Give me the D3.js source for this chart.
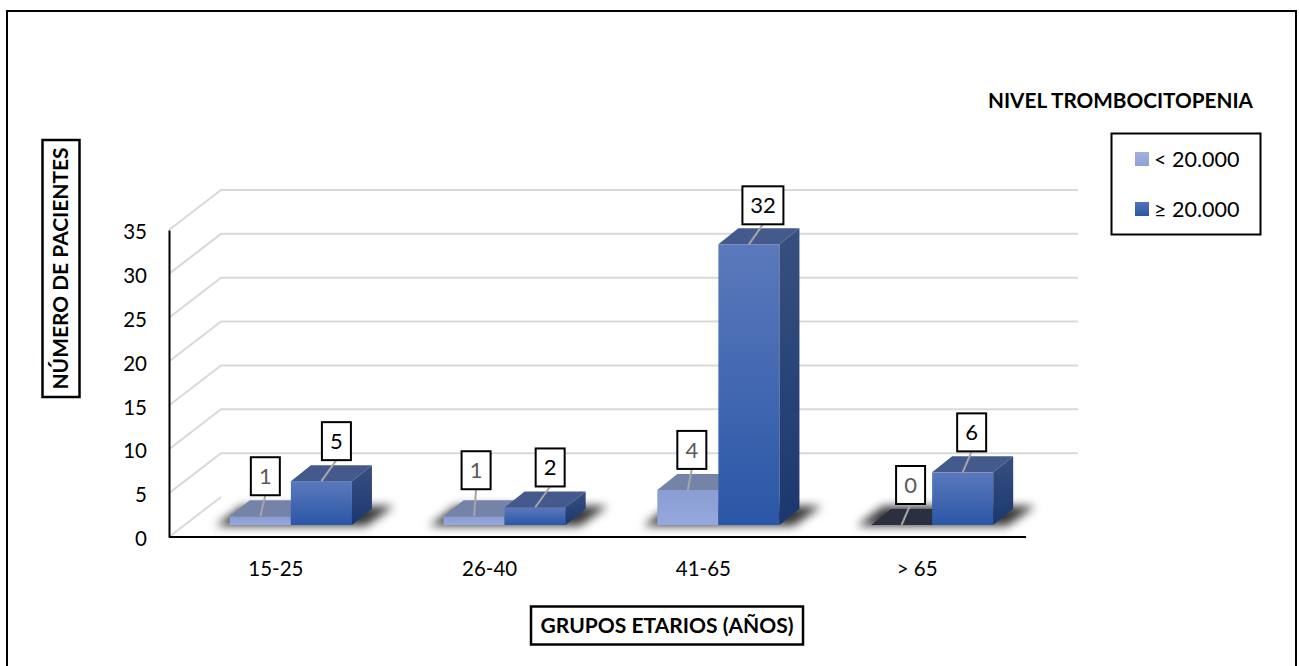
<!DOCTYPE html>
<html>
<head>
<meta charset="utf-8">
<script src="https://cdn.jsdelivr.net/npm/d3@7"></script>
<style>
html, body { margin: 0; padding: 0; background: #fff; overflow: hidden; }
text { font-family: Lato, "Open Sans", sans-serif; }
</style>
</head>
<body>
<div id="chart"></div>
<script>
var w = 1299;
var h = 666;

var categories = ["15-25", "26-40", "41-65", "> 65"];
var series = ["< 20.000", "≥ 20.000"];
var lowValues = [1, 1, 4, 0];
var highValues = [5, 2, 32, 6];
var yTicks = [0, 5, 10, 15, 20, 25, 30, 35];

// label boxes are moved by hand in the original, offset from the bar top
var lowNudgeX = [5, 2, 4, 9];
var lowNudgeY = [21, 27, 21, 21];
var highNudgeX = [15, 15, 14, 9];
var highNudgeY = [21, 21, 20, 21];

var axisLeft = 169, axisRight = 1026;
var depthX = 52, depthY = 40;   // back wall offset
var floorX = 15, floorY = 12;   // bars start this far into the floor
var barX = 20, barY = 16;       // depth of a bar

var x = d3.scaleBand().domain(categories).range([axisLeft, 1024]);
var x1 = d3.scaleBand().domain(series).range([0, x.bandwidth()]).paddingOuter(0.75);
var y = d3.scaleLinear().domain([0, 35]).range([537, 230]);

var svg = d3.select("#chart")
	.append("svg")
	.attr("width", w)
	.attr("height", h)
	.style("display", "block");

var defs = svg.append("defs");

function gradient(id, top, bottom) {
	var g = defs.append("linearGradient")
		.attr("id", id)
		.attr("x1", 0).attr("y1", 0).attr("x2", 0).attr("y2", 1);
	g.append("stop").attr("offset", "0%").attr("stop-color", top);
	g.append("stop").attr("offset", "100%").attr("stop-color", bottom);
}
gradient("lowFront", "#8a9dd2", "#95a8df");
gradient("highFront", "#5b79bc", "#2a57a6");
gradient("highSide", "#37507f", "#1b386f");
gradient("lowSwatch", "#a3b1dc", "#8ea2d8");
gradient("highSwatch", "#5273b8", "#2a57a6");

defs.append("filter")
	.attr("id", "blur")
	.attr("x", "-20%").attr("y", "-60%").attr("width", "140%").attr("height", "220%")
	.append("feGaussianBlur")
	.attr("stdDeviation", 5);

// outer frame
svg.append("rect")
	.attr("x", 7).attr("y", 11)
	.attr("width", 1289).attr("height", 680)
	.attr("fill", "#fff")
	.attr("stroke", "#000")
	.attr("stroke-width", 2);

// back wall gridlines and their side wall part
var grid = svg.append("g")
	.attr("fill", "none")
	.attr("stroke", "#d9d9d9")
	.attr("stroke-width", 2);

grid.selectAll("path")
	.data(yTicks)
	.enter()
	.append("path")
	.attr("d", function(d) {
		var p = d3.path();
		p.moveTo(axisLeft, y(d));
		p.lineTo(axisLeft + depthX, y(d) - depthY);
		if (d > 0) p.lineTo(axisRight + depthX, y(d) - depthY);
		return p.toString();
	});

var rows = categories.map(function(c, i) {
	return { category: c, low: lowValues[i], high: highValues[i], i: i };
});

function barLeft(category, name) {
	return x(category) + x1(name) + floorX;
}

// floor shadows
svg.append("g")
	.selectAll("path")
	.data(rows)
	.enter()
	.append("path")
	.attr("filter", "url(#blur)")
	.attr("fill", "#000")
	.attr("fill-opacity", 0.78)
	.attr("d", function(d) {
		var l = barLeft(d.category, series[0]);
		var r = barLeft(d.category, series[1]) + x1.bandwidth();
		var base = y(0) - floorY;
		var p = d3.path();
		p.moveTo(l - 14, base + 1);
		p.lineTo(r + 14, base + 1);
		p.lineTo(r + 42, base - 19);
		p.lineTo(l + 12, base - 19);
		p.closePath();
		return p.toString();
	});

function drawBars(name, values, frontFill, topFill, sideFill) {
	var bars = svg.append("g")
		.selectAll("g")
		.data(values.map(function(v, i) { return { category: categories[i], value: v }; }))
		.enter()
		.append("g");

	// front face
	bars.append("rect")
		.attr("x", function(d) { return barLeft(d.category, name); })
		.attr("y", function(d) { return y(d.value) - floorY; })
		.attr("width", x1.bandwidth())
		.attr("height", function(d) { return y(0) - y(d.value); })
		.attr("fill", frontFill);

	// top face
	bars.append("path")
		.attr("fill", function(d) { return d.value === 0 ? "#2b3040" : topFill; })
		.attr("d", function(d) {
			var l = barLeft(d.category, name), t = y(d.value) - floorY, b = x1.bandwidth();
			return "M" + l + "," + t + "L" + (l + b) + "," + t +
				"L" + (l + b + barX) + "," + (t - barY) + "L" + (l + barX) + "," + (t - barY) + "Z";
		});

	// side face
	bars.filter(function(d) { return d.value > 0; })
		.append("path")
		.attr("fill", sideFill)
		.attr("d", function(d) {
			var r = barLeft(d.category, name) + x1.bandwidth(), t = y(d.value) - floorY, f = y(0) - floorY;
			return "M" + r + "," + t + "L" + (r + barX) + "," + (t - barY) +
				"L" + (r + barX) + "," + (f - barY) + "L" + r + "," + f + "Z";
		});
}

drawBars(series[0], lowValues, "url(#lowFront)", "#7583a8", "#6a79a3");
drawBars(series[1], highValues, "url(#highFront)", "#445a8c", "url(#highSide)");

// data labels with leader line
function drawLabels(name, values, nudgeX, nudgeY, textColor) {
	var labels = svg.append("g")
		.selectAll("g")
		.data(values.map(function(v, i) {
			var ax = barLeft(categories[i], name) + x1.bandwidth() / 2;
			var ay = y(v) - floorY;
			return { value: v, ax: ax, ay: ay, bx: ax + nudgeX[i], by: ay - nudgeY[i] };
		}))
		.enter()
		.append("g");

	labels.append("line")
		.attr("x1", function(d) { return d.ax; })
		.attr("y1", function(d) { return d.ay; })
		.attr("x2", function(d) { return d.bx; })
		.attr("y2", function(d) { return d.by; })
		.attr("stroke", "#a6a6a6")
		.attr("stroke-width", 2);

	labels.append("rect")
		.attr("x", function(d) { return d.bx - (d.value > 9 ? 20.5 : 14.5); })
		.attr("y", function(d) { return d.by - 38; })
		.attr("width", function(d) { return d.value > 9 ? 41 : 29; })
		.attr("height", 38)
		.attr("fill", "#fff")
		.attr("stroke", "#000")
		.attr("stroke-width", 2);

	labels.append("text")
		.attr("x", function(d) { return d.bx; })
		.attr("y", function(d) { return d.by - 19; })
		.attr("dy", "0.36em")
		.attr("text-anchor", "middle")
		.attr("font-size", 22)
		.attr("fill", textColor)
		.text(function(d) { return d.value; });
}

drawLabels(series[0], lowValues, lowNudgeX, lowNudgeY, "#595959");
drawLabels(series[1], highValues, highNudgeX, highNudgeY, "#000");

// axes
var yAxis = svg.append("g")
	.attr("transform", "translate(" + axisLeft + ",0)")
	.call(d3.axisLeft(y).tickValues(yTicks).tickSize(0).tickPadding(22));

var xAxis = svg.append("g")
	.attr("transform", "translate(0," + y(0) + ")")
	.call(d3.axisBottom(x).tickSize(0).tickPadding(24));

// the band scale stops a little short of the drawn axis line
xAxis.select(".domain").attr("d", "M" + axisLeft + ",0H" + axisRight);

[yAxis, xAxis].forEach(function(a) {
	a.select(".domain").attr("stroke", "#000").attr("stroke-width", 2);
	a.selectAll("text")
		.attr("font-size", 20.5)
		.attr("font-family", "Lato, sans-serif")
		.attr("fill", "#000");
});
yAxis.selectAll("text").attr("dy", "0.42em");

// framed titles
function framedTitle(cx, cy, bw, bh, label, len, rotate) {
	var g = svg.append("g")
		.attr("transform", "translate(" + cx + "," + cy + ")" + (rotate ? " rotate(-90)" : ""));
	g.append("rect")
		.attr("x", -bw / 2).attr("y", -bh / 2)
		.attr("width", bw).attr("height", bh)
		.attr("fill", "#fff")
		.attr("stroke", "#000")
		.attr("stroke-width", 2.5);
	g.append("text")
		.attr("dy", "0.36em")
		.attr("text-anchor", "middle")
		.attr("font-size", 20.5)
		.attr("font-weight", 700)
		.attr("textLength", len)
		.attr("lengthAdjust", "spacingAndGlyphs")
		.text(label);
}
framedTitle(61, 268.5, 257, 37, "NÚMERO DE PACIENTES", 242, true);
framedTitle(667, 625.5, 272, 38, "GRUPOS ETARIOS (AÑOS)", 253, false);

// legend
svg.append("text")
	.attr("x", 988)
	.attr("y", 108)
	.attr("font-size", 20.5)
	.attr("font-weight", 700)
	.attr("textLength", 265)
	.attr("lengthAdjust", "spacingAndGlyphs")
	.text("NIVEL TROMBOCITOPENIA");

svg.append("rect")
	.attr("x", 1111.5).attr("y", 133.5)
	.attr("width", 149).attr("height", 101)
	.attr("fill", "#fff")
	.attr("stroke", "#000")
	.attr("stroke-width", 2);

var legend = svg.append("g")
	.selectAll("g")
	.data(series)
	.enter()
	.append("g")
	.attr("transform", function(d, i) { return "translate(1135," + (152 + i * 50) + ")"; });

legend.append("rect")
	.attr("width", 14)
	.attr("height", 14)
	.attr("fill", function(d, i) { return i === 0 ? "url(#lowSwatch)" : "url(#highSwatch)"; });

legend.append("text")
	.attr("x", 19)
	.attr("y", 7)
	.attr("dy", "0.36em")
	.attr("font-size", 21.5)
	.text(function(d) { return d; });
</script>
</body>
</html>
